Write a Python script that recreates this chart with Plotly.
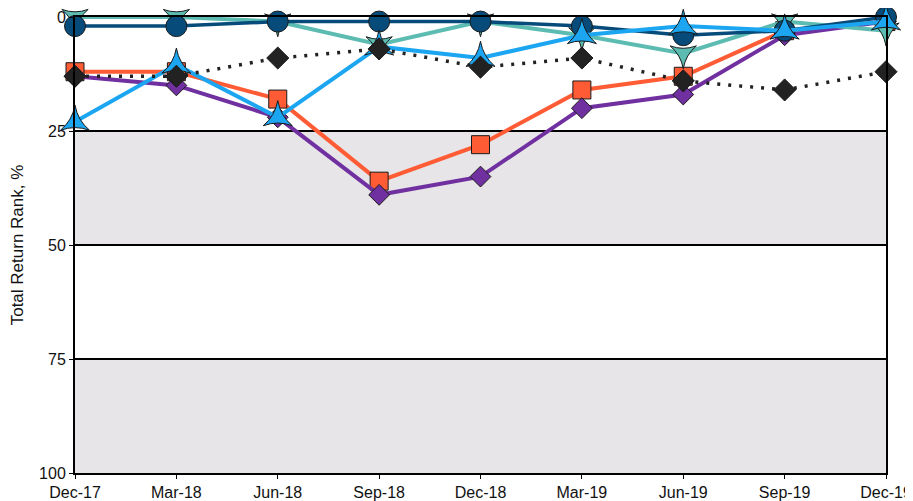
import plotly.graph_objects as go

categories = ["Dec-17", "Mar-18", "Jun-18", "Sep-18", "Dec-18", "Mar-19", "Jun-19", "Sep-19", "Dec-19"]

orange_vals = [12, 12, 18, 36, 28, 16, 13, 3, 1]
purple_vals = [13, 15, 22, 39, 35, 20, 17, 4, 1]
teal_vals = [0, 0, 1, 6, 1, 4, 8, 1, 3]
navy_vals = [2, 2, 1, 1, 1, 2, 4, 3, 0]
lightblue_vals = [23, 10.5, 22, 6.5, 9, 4, 2, 3, 1]
black_vals = [13, 13, 9, 7, 11, 9, 14, 16, 12]

y_ticks = [0, 25, 50, 75, 100]

xs = list(range(len(categories)))

series = [
    dict(vals=orange_vals, color="#ff5b35", symbol="square", size=18, width=4, dash="solid"),
    dict(vals=purple_vals, color="#7030a0", symbol="diamond", size=16, width=4, dash="solid"),
    dict(vals=teal_vals, color="#5cbcb2", symbol="star-triangle-down", size=19, width=4, dash="solid"),
    dict(vals=navy_vals, color="#064b7a", symbol="circle", size=21, width=3.5, dash="solid"),
    dict(vals=lightblue_vals, color="#1ca6f2", symbol="star-triangle-up", size=21, width=4, dash="solid"),
    dict(vals=black_vals, color="#222222", symbol="diamond", size=17, width=3.5, dash="3px,8px"),
]

fig = go.Figure()
for s in series:
    fig.add_trace(go.Scatter(
        x=xs, y=s["vals"], mode="lines+markers",
        line=dict(color=s["color"], width=s["width"], dash=s["dash"]),
        marker=dict(symbol=s["symbol"], size=s["size"], color=s["color"],
                    line=dict(color="#1a1a1a", width=1)),
        cliponaxis=False, showlegend=False, hoverinfo="skip",
    ))

for lo, hi in [(25, 50), (75, 100)]:
    fig.add_shape(type="rect", xref="x", yref="y", x0=0, x1=8, y0=lo, y1=hi,
                  fillcolor="#e7e5e7", line_width=0, layer="below")

# page body has an 8px default margin, so the figure is shrunk by 8px
fig.update_layout(
    width=905, height=493,
    margin=dict(l=67, r=27, t=9, b=28),
    paper_bgcolor="white", plot_bgcolor="white",
    font=dict(family="Liberation Sans, Arial", size=16, color="#111"),
)
fig.update_xaxes(
    range=[0, 8], tickvals=xs, ticktext=categories,
    showgrid=False, zeroline=False, automargin=False,
    showline=True, linecolor="black", linewidth=2, mirror=True,
    ticks="outside", ticklen=4, tickcolor="black", tickfont=dict(size=16),
)
fig.update_yaxes(
    range=[100, 0], tickvals=y_ticks, ticktext=[str(v) for v in y_ticks],
    showgrid=True, gridcolor="black", gridwidth=2, zeroline=False, automargin=False,
    showline=True, linecolor="black", linewidth=2, mirror=True,
    ticks="outside", ticklen=4, tickcolor="black", tickfont=dict(size=16),
    title=dict(text="Total Return Rank, %", font=dict(family="Liberation Sans, Arial", size=17), standoff=24),
)

fig.write_html("out.html")
